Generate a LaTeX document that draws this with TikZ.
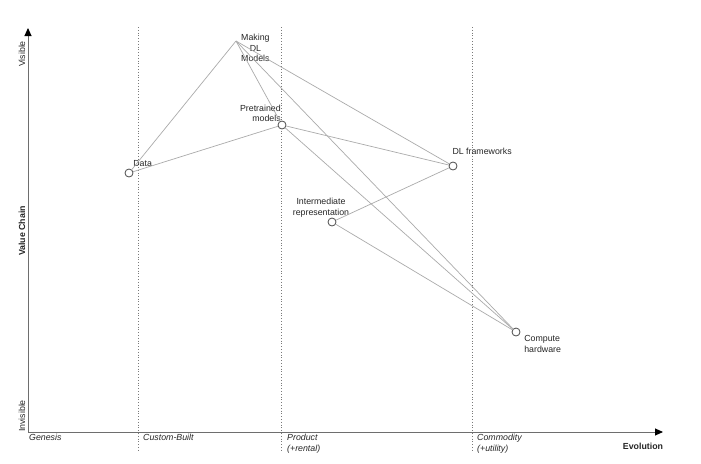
\documentclass[tikz,border=0pt]{standalone}
\usepackage{fontspec}
\setmainfont{Liberation Sans}
\usetikzlibrary{arrows.meta, positioning}

\definecolor{linkgray}{HTML}{ABABAB}
\definecolor{compedge}{HTML}{4A4A4A}
\definecolor{axisgray}{HTML}{6E6E6E}
\definecolor{stagegray}{HTML}{7A7A7A}
\definecolor{txtgray}{HTML}{262626}

\begin{document}
\begin{tikzpicture}[
  x=1pt, y=-1pt,
  comp/.style={circle, draw=compedge, fill=white, line width=0.8pt, minimum size=8pt, inner sep=0pt},
  lbl/.style={font=\fontsize{8.8}{10.6}\selectfont, text=txtgray, inner sep=0pt},
  stagelbl/.style={lbl, font=\fontsize{8.8}{10.6}\selectfont\itshape, align=left, anchor=north west},
  axislbl/.style={lbl, font=\fontsize{8.8}{10.6}\selectfont\bfseries},
  axisline/.style={draw=axisgray, line width=0.9pt, -{Triangle[length=8pt, width=7pt, color=black]}},
  stageline/.style={draw=stagegray, dotted, line width=0.8pt},
  link/.style={draw=linkgray, line width=0.7pt}
]
\useasboundingbox[fill=white] (0,0) rectangle (701,463);

% axes
\coordinate (origin) at (28,432);
\coordinate (ytop) at (28,28);
\coordinate (xend) at (663,432);
\draw[axisline] (origin) -- (ytop);
\draw[axisline] (origin) -- (xend);

% evolution stages
\draw[stageline] (138,27) -- (138,452);
\draw[stageline] (281,27) -- (281,452);
\draw[stageline] (472,27) -- (472,452);

\node[lbl, rotate=90] (visible) at (22,54) {Visible};
\node[lbl, rotate=90] (invisible) at (22,416) {Invisible};
\node[axislbl, rotate=90] (valuechain) at (22,231) {Value Chain};
\node[axislbl] (evolution) at (643,446) {Evolution};

\node[stagelbl] (genesis) at (29,434) {Genesis};
\node[stagelbl] (custom) at (143,434) {Custom-Built};
\node[stagelbl] (product) at (287,434) {Product\\(+rental)};
\node[stagelbl] (commodity) at (477,434) {Commodity\\(+utility)};

% components
\coordinate (mdl) at (236,41);
\node[comp] (data) at (129,173) {};
\node[comp] (pre) at (282,125) {};
\node[comp] (dlf) at (453,166) {};
\node[comp] (ir) at (332,222) {};
\node[comp] (ch) at (516,332) {};

\node[lbl, align=center, right=5pt of mdl, yshift=-7pt] (mdllbl) {Making\\DL\\Models};
\node[lbl, above right=3pt and 1pt of data] (datalbl) {Data};
\node[lbl, align=right, above left=0pt and -2pt of pre] (prelbl) {Pretrained\\models};
\node[lbl, above right=8.5pt and -3.8pt of dlf] (dlflbl) {DL frameworks};
\node[lbl, align=center, above=0.5pt of ir, xshift=-11pt] (irlbl) {Intermediate\\representation};
\node[lbl, align=left, below right=0pt and 5pt of ch] (chlbl) {Compute\\hardware};

% dependencies
\draw[link] (mdl) -- (data);
\draw[link] (mdl) -- (pre);
\draw[link] (mdl) -- (dlf);
\draw[link] (mdl) -- (ch);
\draw[link] (pre) -- (data);
\draw[link] (pre) -- (dlf);
\draw[link] (pre) -- (ch);
\draw[link] (ir) -- (dlf);
\draw[link] (ir) -- (ch);

\end{tikzpicture}
\end{document}
